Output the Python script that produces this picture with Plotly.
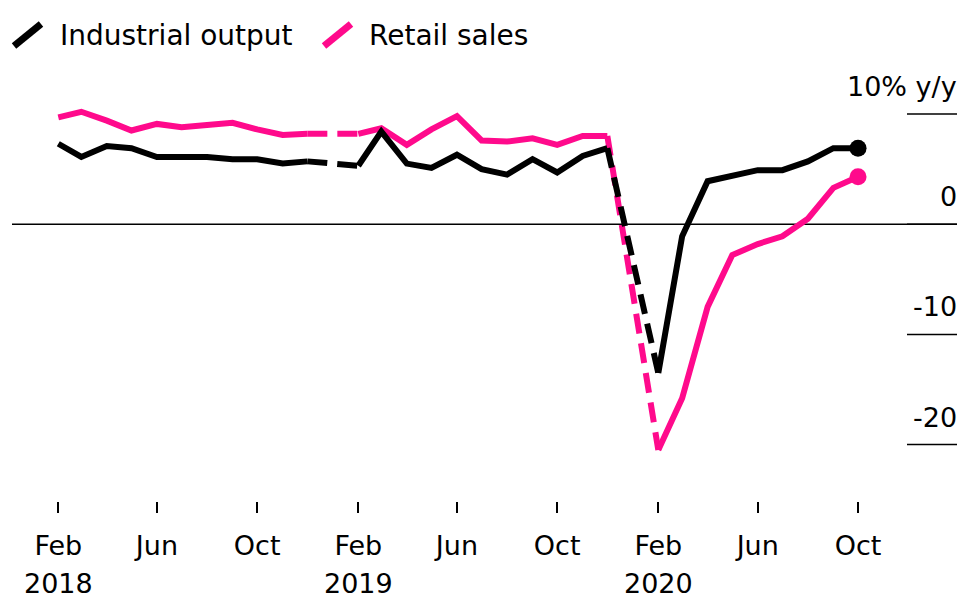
import plotly.graph_objects as go
from datetime import datetime, timedelta

# ---------------- data ----------------
months = (
    [f"2018-{m:02d}-01" for m in range(2, 13)]
    + [f"2019-{m:02d}-01" for m in range(2, 13)]
    + [f"2020-{m:02d}-01" for m in range(2, 11)]
)
industrial = [7.3, 6.1, 7.1, 6.9, 6.1, 6.1, 6.1, 5.9, 5.9, 5.5, 5.7,
              5.3, 8.4, 5.5, 5.1, 6.3, 5.0, 4.5, 5.9, 4.7, 6.2, 6.9,
              -13.5, -1.1, 3.9, 4.4, 4.9, 4.9, 5.7, 6.9, 6.9]
retail = [9.7, 10.2, 9.4, 8.5, 9.1, 8.8, 9.0, 9.2, 8.6, 8.1, 8.2,
          8.2, 8.7, 7.2, 8.6, 9.8, 7.6, 7.5, 7.8, 7.2, 8.0, 8.0,
          -20.5, -15.8, -7.5, -2.8, -1.8, -1.1, 0.5, 3.3, 4.3]

series_names = ["Industrial output", "Retail sales"]
tick_dates = ["2018-02-01", "2018-06-01", "2018-10-01",
              "2019-02-01", "2019-06-01", "2019-10-01",
              "2020-02-01", "2020-06-01", "2020-10-01"]
tick_labels = ["Feb", "Jun", "Oct", "Feb", "Jun", "Oct", "Feb", "Jun", "Oct"]
year_dates = ["2018-02-01", "2019-02-01", "2020-02-01"]
year_labels = ["2018", "2019", "2020"]
y_ticks = [10, 0, -10, -20]
y_tick_labels = ["10% y/y", "0", "-10", "-20"]

# ---------------- style ----------------
BLACK = "#000000"
PINK = "#ff0a8c"
FONT = "DejaVu Sans"
LW = 6
DASH = "20px,10px"

# page body has an 8px default margin; size the figure to fill the rest
OFF = 8
W, H = 966 - OFF, 596 - OFF
L, R, T, B = 12 - OFF, 9, 60 - OFF, 95
plot_w = W - L - R

# x range derived from pixel layout (Feb 2018 at px 58.3, 25 px per month)
d0 = datetime(2018, 2, 1)
ppd = 600.0 / 730.0
x_left = d0 - timedelta(days=(58.3 - 12) / ppd)
x_right = d0 + timedelta(days=(957 - 58.3) / ppd)
y_range = [-25.12, 14.90]


def month_gap(a, b):
    da = datetime.fromisoformat(a)
    db = datetime.fromisoformat(b)
    return (db.year - da.year) * 12 + (db.month - da.month)


def add_series(fig, xs, ys, color, name):
    # split into solid runs (consecutive months) and dashed bridges (missing January)
    runs = []
    cur = [0]
    for i in range(1, len(xs)):
        if month_gap(xs[i - 1], xs[i]) == 1:
            cur.append(i)
        else:
            runs.append(cur)
            fig.add_trace(go.Scatter(
                x=[xs[i - 1], xs[i]], y=[ys[i - 1], ys[i]], mode="lines",
                line=dict(color=color, width=LW, dash=DASH),
                showlegend=False, hoverinfo="skip"))
            cur = [i]
    runs.append(cur)
    for run in runs:
        fig.add_trace(go.Scatter(
            x=[xs[j] for j in run], y=[ys[j] for j in run], mode="lines",
            line=dict(color=color, width=LW), name=name, showlegend=False))
    fig.add_trace(go.Scatter(
        x=[xs[-1]], y=[ys[-1]], mode="markers",
        marker=dict(color=color, size=17), showlegend=False, hoverinfo="skip"))


fig = go.Figure()
add_series(fig, months, retail, PINK, series_names[1])
add_series(fig, months, industrial, BLACK, series_names[0])

shapes = []
# zero line across the plot
shapes.append(dict(type="line", xref="paper", yref="y", x0=0, x1=1, y0=0, y1=0,
                   line=dict(color=BLACK, width=1.5), layer="below"))
# right-side tick stubs
stub_x0 = (907 - 12) / plot_w
for v in y_ticks:
    shapes.append(dict(type="line", xref="paper", yref="y", x0=stub_x0, x1=1,
                       y0=v, y1=v, line=dict(color=BLACK, width=1.5), layer="below"))

annotations = []
for v, lab in zip(y_ticks, y_tick_labels):
    annotations.append(dict(x=1, xref="paper", y=v, yref="y", text=lab,
                            showarrow=False, xanchor="right", yanchor="middle",
                            xshift=2, yshift=27.5,
                            font=dict(family=FONT, size=27, color=BLACK)))
for d, lab in zip(year_dates, year_labels):
    annotations.append(dict(x=d, xref="x", y=0, yref="paper", text=lab,
                            showarrow=False, xanchor="center", yanchor="middle",
                            yshift=-82,
                            font=dict(family=FONT, size=27, color=BLACK)))

# custom legend (slash icons + text)
legend_items = [(series_names[0], BLACK, 2, 46), (series_names[1], PINK, 312, 355)]
for name, color, icon_x, text_x in legend_items:
    shapes.append(dict(type="line", xref="paper", yref="paper",
                       xsizemode="pixel", ysizemode="pixel", xanchor=0, yanchor=1,
                       x0=icon_x, x1=icon_x + 27, y0=14, y1=36,
                       line=dict(color=color, width=7)))
    annotations.append(dict(x=0, xref="paper", y=1, yref="paper", text=name,
                            showarrow=False, xanchor="left", yanchor="middle",
                            xshift=text_x, yshift=25,
                            font=dict(family=FONT, size=28, color=BLACK)))

fig.update_layout(
    width=W, height=H,
    margin=dict(l=L, r=R, t=T, b=B),
    paper_bgcolor="white", plot_bgcolor="white",
    showlegend=False,
    shapes=shapes, annotations=annotations,
    xaxis=dict(type="date", range=[x_left.isoformat(), x_right.isoformat()],
               tickvals=tick_dates, ticktext=tick_labels,
               ticks="outside", ticklen=11, tickwidth=2, tickcolor=BLACK,
               showgrid=False, zeroline=False, showline=False,
               ticklabelstandoff=10,
               tickfont=dict(family=FONT, size=27, color=BLACK)),
    yaxis=dict(range=y_range, showgrid=False, zeroline=False, showline=False,
               showticklabels=False, ticks=""),
)

fig.write_html("out.html")
